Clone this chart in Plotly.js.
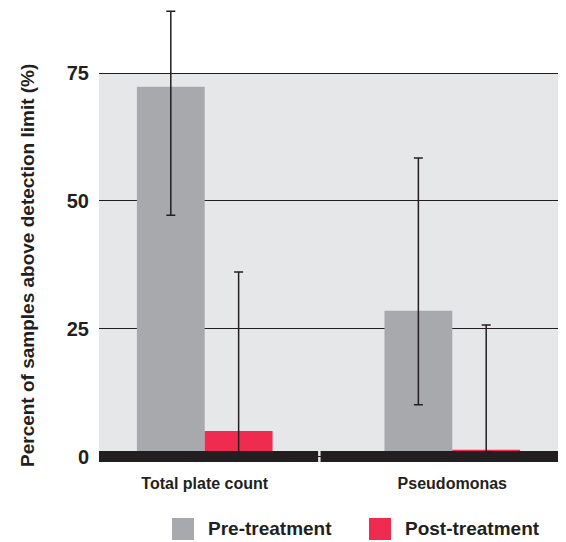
<!DOCTYPE html>
<html>
<head>
<meta charset="utf-8">
<script src="https://cdn.plot.ly/plotly-3.0.1.min.js"></script>
<style>html,body{margin:0;padding:0;background:#fff;}#chart{width:566px;height:542px;}</style>
</head>
<body>
<div id="chart"></div>
<script>
// Data
var categories = ["Total plate count", "Pseudomonas"];
var seriesNames = ["Pre-treatment", "Post-treatment"];
var preValues = [72.3, 28.5];
var preErrPlus = [14.8, 29.9];
var preErrMinus = [25.1, 18.4];
var postValues = [5.0, 1.3];
var postErrPlus = [31.1, 24.4];
var postErrMinus = [5.0, 1.3];
var yTickVals = [0, 25, 50, 75];
var yTickText = ["0", "25", "50", "75"];
var yTitle = "Percent of samples above detection limit (%)";

var preColor = "#a7a9ac";
var postColor = "#ef2b50";
var ink = "#231f20";
var FONT = "Liberation Sans, Arial, sans-serif";

var errStyle = {color: ink, thickness: 1.5, width: 4.5};

var traces = [
  {
    type: "bar", name: seriesNames[0], x: categories, y: preValues,
    marker: {color: preColor, line: {width: 0}},
    error_y: Object.assign({type: "data", symmetric: false, array: preErrPlus, arrayminus: preErrMinus}, errStyle),
    hoverinfo: "skip"
  },
  {
    type: "bar", name: seriesNames[1], x: categories, y: postValues,
    marker: {color: postColor, line: {width: 0}},
    error_y: Object.assign({type: "data", symmetric: false, array: postErrPlus, arrayminus: postErrMinus}, errStyle),
    hoverinfo: "skip"
  }
];

function px2paperX(p) { return (p - 99) / 459; }
function px2paperY(p) { return (462 - p) / 455; }

var shapes = [
  // gray plot background (only up to 75)
  {type: "rect", xref: "paper", yref: "y", x0: 0, x1: 1, y0: -1.08, y1: 75,
   fillcolor: "#e6e7e8", line: {width: 0}, layer: "below"},
  // thick black baseline split in two
  {type: "rect", xref: "x", yref: "y", x0: -0.6, x1: 0.458, y0: -1.08, y1: 1.08,
   fillcolor: ink, line: {width: 0}, layer: "above"},
  {type: "rect", xref: "x", yref: "y", x0: 0.468, x1: 1.6, y0: -1.08, y1: 1.08,
   fillcolor: ink, line: {width: 0}, layer: "above"},
  // legend swatches
  {type: "rect", xref: "paper", yref: "paper", x0: px2paperX(172), x1: px2paperX(194),
   y0: px2paperY(540), y1: px2paperY(518), fillcolor: preColor, line: {width: 0}},
  {type: "rect", xref: "paper", yref: "paper", x0: px2paperX(369), x1: px2paperX(391),
   y0: px2paperY(540), y1: px2paperY(518), fillcolor: postColor, line: {width: 0}}
];

var annotations = [
  {xref: "paper", yref: "paper", x: px2paperX(206), y: px2paperY(528), xanchor: "left", yanchor: "middle",
   text: seriesNames[0], showarrow: false, font: {family: FONT, size: 19, color: ink, weight: "bold"}},
  {xref: "paper", yref: "paper", x: px2paperX(403), y: px2paperY(528), xanchor: "left", yanchor: "middle",
   text: seriesNames[1], showarrow: false, font: {family: FONT, size: 19, color: ink, weight: "bold"}},
  {xref: "paper", yref: "paper", x: px2paperX(27), y: px2paperY(266), xanchor: "center", yanchor: "middle",
   textangle: -90, text: yTitle, showarrow: false,
   font: {family: FONT, size: 19, color: ink, weight: "bold"}}
];

var layout = {
  width: 566, height: 542,
  margin: {l: 99, r: 8, t: 7, b: 80},
  paper_bgcolor: "#ffffff",
  plot_bgcolor: "#ffffff",
  barmode: "group",
  bargap: 0.452,
  bargroupgap: 0,
  showlegend: false,
  xaxis: {
    type: "category",
    range: [-0.427, 1.427],
    showgrid: false, zeroline: false, showline: false,
    ticks: "", ticklabelstandoff: 10,
    tickfont: {family: FONT, size: 16, color: ink, weight: "bold"},
    fixedrange: true
  },
  yaxis: {
    range: [-1.076, 87.91],
    tickvals: yTickVals, ticktext: yTickText,
    showgrid: true, gridcolor: ink, gridwidth: 1,
    zeroline: false, showline: false,
    ticks: "", ticklabelstandoff: 9,
    tickfont: {family: FONT, size: 20, color: ink, weight: "bold"},
    automargin: false,
    fixedrange: true
  },
  shapes: shapes,
  annotations: annotations
};

Plotly.newPlot("chart", traces, layout, {displayModeBar: false, staticPlot: true});
</script>
</body>
</html>
